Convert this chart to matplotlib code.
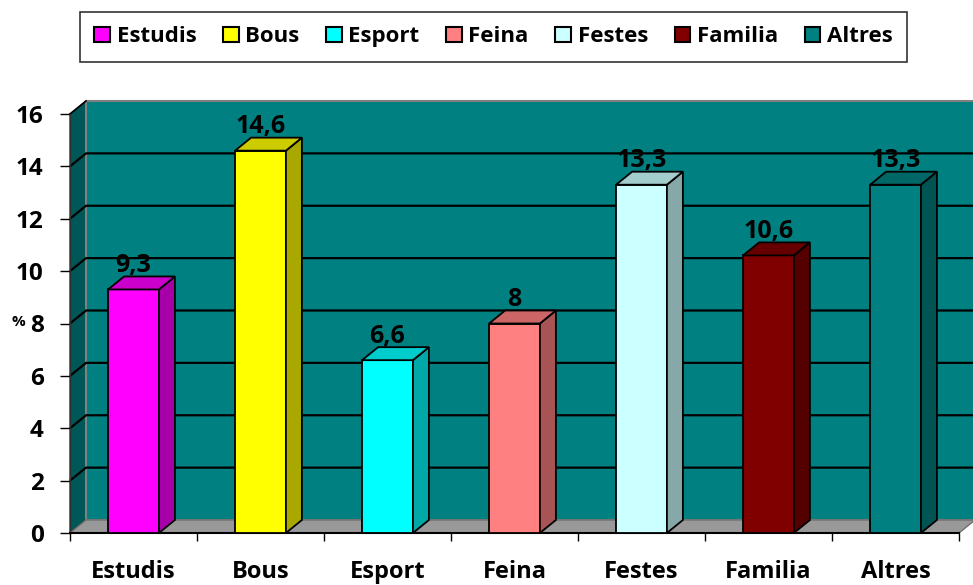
import matplotlib
matplotlib.use("Agg")
import matplotlib.pyplot as plt
from matplotlib.patches import Polygon, Patch
from matplotlib.colors import to_rgb

categories = ["Estudis", "Bous", "Esport", "Feina", "Festes", "Familia", "Altres"]
values = [9.3, 14.6, 6.6, 8, 13.3, 10.6, 13.3]
value_labels = ["9,3", "14,6", "6,6", "8", "13,3", "10,6", "13,3"]
colors = ["#FF00FF", "#FFFF00", "#00FFFF", "#FF8080", "#CCFFFF", "#800000", "#008080"]
yticks = [0, 2, 4, 6, 8, 10, 12, 14, 16]

plt.rcParams['font.family'] = ['Open Sans', 'DejaVu Sans']
FW = "bold"

W, H = 973, 585
fig = plt.figure(figsize=(W / 100, H / 100), dpi=100)
ax = fig.add_axes([70 / W, 52 / H, 889 / W, 419 / H])
n = len(categories)
ax.set_xlim(-0.5, n - 0.5)
ax.set_ylim(0, 16)

# 3D depth offsets (in data units)
dx = 16 / 127
dy = 13 / (419 / 16)

def shade(c, f):
    r, g, b = to_rgb(c)
    return (r * f, g * f, b * f)

x0, x1 = -0.5, n - 0.5
ymax = 16
ax.add_patch(Polygon([(x0, 0), (x0, ymax), (x0 + dx, ymax + dy), (x0 + dx, dy)],
                     closed=True, facecolor="#005757", edgecolor="#404040", lw=1,
                     clip_on=False, zorder=1))
ax.add_patch(Polygon([(x0 + dx, dy), (x0 + dx, ymax + dy), (x1 + dx, ymax + dy), (x1 + dx, dy)],
                     closed=True, facecolor="#008080", edgecolor="#808080", lw=1.5,
                     clip_on=False, zorder=1))
for t in yticks[1:-1]:
    ax.plot([x0, x0 + dx, x1 + dx], [t, t + dy, t + dy], color="black", lw=1.6,
            clip_on=False, zorder=2, solid_capstyle='butt')
ax.plot([x0, x0 + dx], [ymax, ymax + dy], color="black", lw=1.2, clip_on=False, zorder=2)
ax.add_patch(Polygon([(x0, 0), (x1, 0), (x1 + dx, dy), (x0 + dx, dy)],
                     closed=True, facecolor="#999999", edgecolor="#707070", lw=1,
                     clip_on=False, zorder=2))

bw = 0.4
for i, (v, c, lab) in enumerate(zip(values, colors, value_labels)):
    l, r = i - bw / 2, i + bw / 2
    ax.add_patch(Polygon([(l, 0), (r, 0), (r, v), (l, v)], closed=True,
                         facecolor=c, edgecolor="black", lw=1.3, zorder=5, clip_on=False))
    ax.add_patch(Polygon([(r, 0), (r + dx, dy), (r + dx, v + dy), (r, v)], closed=True,
                         facecolor=shade(c, 0.66), edgecolor="black", lw=1.3, zorder=5, clip_on=False))
    ax.add_patch(Polygon([(l, v), (r, v), (r + dx, v + dy), (l + dx, v + dy)], closed=True,
                         facecolor=shade(c, 0.8), edgecolor="black", lw=1.3, zorder=5, clip_on=False))
    ax.text(i, v + dy + 0.17, lab, ha="center", va="baseline", fontsize=18,
            fontweight=FW, zorder=6)

for s in ["top", "right"]:
    ax.spines[s].set_visible(False)
ax.spines["left"].set_color("#303030")
ax.spines["left"].set_linewidth(1)
ax.spines["bottom"].set_linewidth(1.5)
ax.spines["bottom"].set_zorder(3)
ax.set_yticks(yticks)
ax.set_yticklabels([str(t) for t in yticks], fontsize=17.5, fontweight=FW)
ax.tick_params(axis="y", direction="out", length=7, width=1, pad=12)
ax.set_xticks([k - 0.5 for k in range(n + 1)])
ax.set_xticklabels([])
ax.set_xticks(range(n), minor=True)
ax.set_xticklabels(categories, minor=True, fontsize=17, fontweight=FW)
ax.tick_params(axis="x", which="major", direction="out", length=6, width=1)
ax.tick_params(axis="x", which="minor", length=0, pad=19.5)
ax.set_facecolor("none")

ax.set_ylabel("%", rotation=0, fontsize=11, fontweight=FW, va="center", ha="center")
ax.yaxis.set_label_coords(-0.058, 0.504)

handles = [Patch(facecolor=c, edgecolor="black", lw=1.5) for c in colors]
leg = fig.legend(handles, categories, loc="upper center", ncol=n,
                 bbox_to_anchor=(493.5 / W, 1 - 12 / H), frameon=True, fancybox=False,
                 edgecolor="black", fontsize=16, handlelength=0.7, handleheight=0.7,
                 handletextpad=0.3, columnspacing=1.2, borderpad=0.65, borderaxespad=0)
leg.get_frame().set_linewidth(1.2)
for t in leg.get_texts():
    t.set_fontweight(FW)

fig.savefig("out.png", dpi=100)
